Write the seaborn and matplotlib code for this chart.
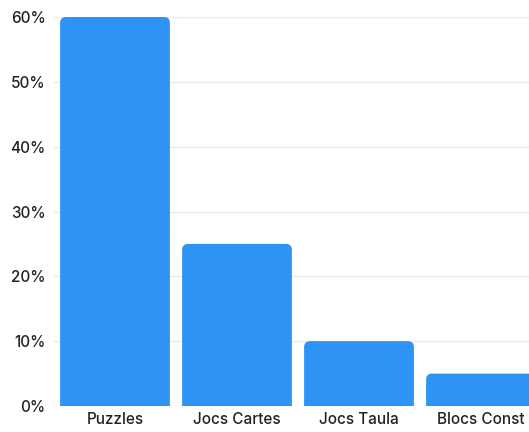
import matplotlib
matplotlib.use("Agg")
import matplotlib.pyplot as plt
import seaborn as sns
import pandas as pd
from matplotlib.patches import FancyBboxPatch
from matplotlib.ticker import FuncFormatter

categories = ["Puzzles", "Jocs Cartes", "Jocs Taula", "Blocs Const"]
values = [60, 25, 10, 5]
y_ticks = [0, 10, 20, 30, 40, 50, 60]

sns.set_theme(style="white")
plt.rcParams["font.family"] = ["Inter", "DejaVu Sans"]

df = pd.DataFrame({"cat": categories, "val": values})

fig = plt.figure(figsize=(5.29, 4.32), dpi=100)
ax = fig.add_axes([54 / 529, 26 / 432, 488 / 529, 389 / 432])
sns.barplot(data=df, x="cat", y="val", color="#2D93F5", width=0.9,
            saturation=1, ax=ax)

ax.set_ylim(0, 60)
ax.set_xlim(-0.5, len(categories) - 0.5)

# rounded top corners
fig.canvas.draw()
bbox = ax.get_window_extent()
px_per_x = bbox.width / (len(categories))
px_per_y = bbox.height / 60
aspect = px_per_x / px_per_y
patches = list(ax.patches)
for p in patches:
    x0, y0 = p.get_x(), p.get_y()
    w, h = p.get_width(), p.get_height()
    fc = p.get_facecolor()
    p.remove()
    r = 6 / px_per_x
    fb = FancyBboxPatch((x0, y0 - 3), w, h + 3,
                        boxstyle=f"round,pad=0,rounding_size={r}",
                        mutation_aspect=aspect, facecolor=fc,
                        edgecolor="none", clip_on=True, zorder=2)
    ax.add_patch(fb)

ax.set_yticks(y_ticks)
ax.yaxis.set_major_formatter(FuncFormatter(lambda v, _: f"{int(v)}%"))
ax.grid(axis="y", color="#EBEBEB", linewidth=1, zorder=0)
ax.set_axisbelow(True)
for s in ax.spines.values():
    s.set_visible(False)
ax.tick_params(axis="both", length=0, labelsize=11, colors="#222222")
ax.tick_params(axis="y", pad=6)
ax.tick_params(axis="x", pad=4)
for lbl in ax.get_xticklabels() + ax.get_yticklabels():
    lbl.set_fontweight("medium")
ax.set_xlabel("")
ax.set_ylabel("")

fig.savefig("out.png", dpi=100)
